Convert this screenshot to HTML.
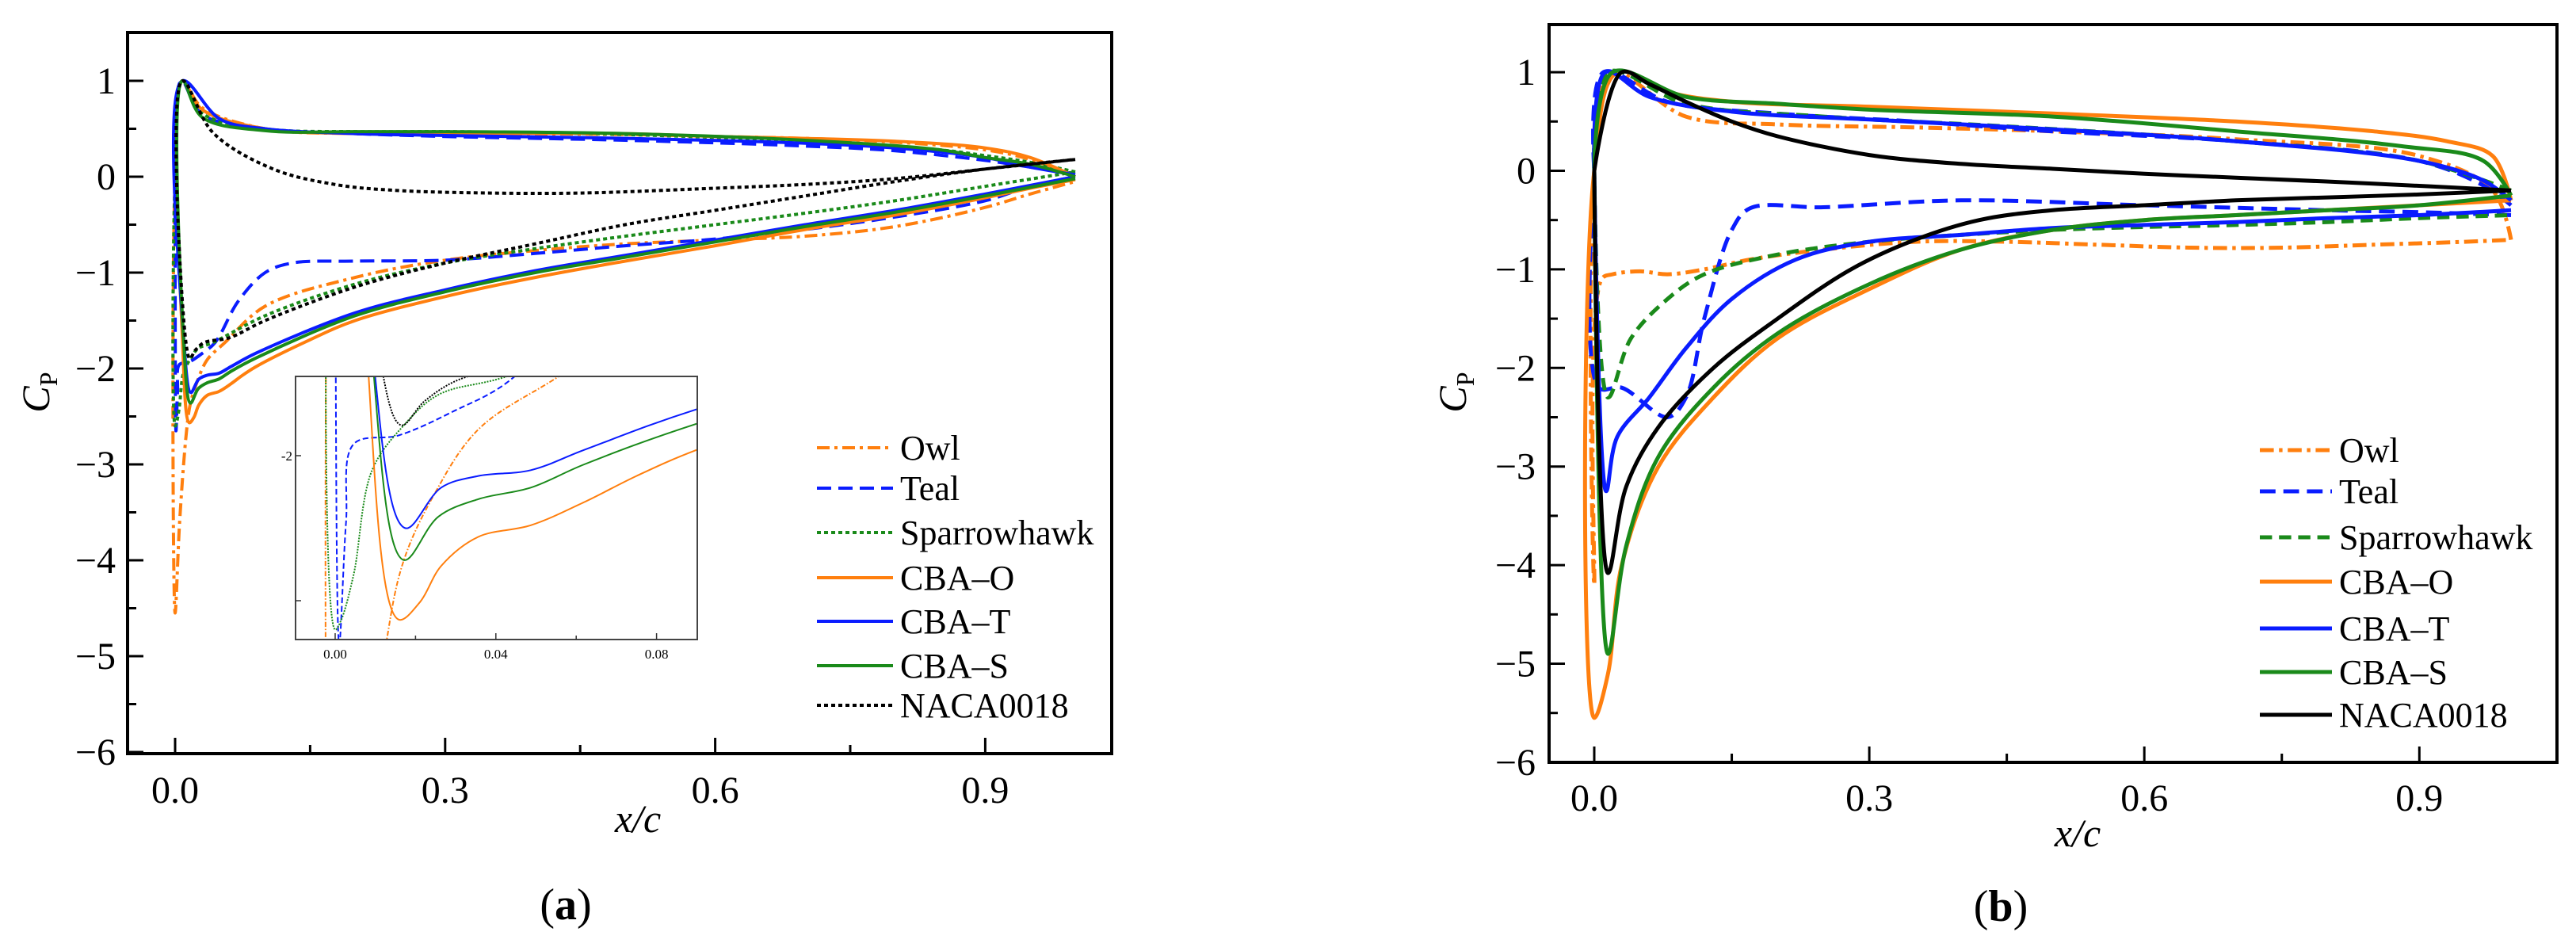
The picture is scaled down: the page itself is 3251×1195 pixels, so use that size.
<!DOCTYPE html>
<html><head><meta charset="utf-8">
<style>
html,body{margin:0;padding:0;background:#fff;width:3251px;height:1195px;overflow:hidden;}
svg{display:block;}
svg text{font-family:"Liberation Serif","DejaVu Serif",serif;}
</style></head>
<body>
<svg id="fig" width="3251" height="1195" viewBox="0 0 3251 1195" font-family="Liberation Serif, DejaVu Serif, serif" xmlns="http://www.w3.org/2000/svg"></svg>
<script>
// ---------- Panel (a) data ----------
const aOwlUx=[0,0.008,0.03,0.1,0.2,0.3,0.5,0.6,0.7,0.8,0.9,0.95,1.0];
const aOwlUy=[0,1,0.72,0.5,0.45,0.45,0.44,0.42,0.4,0.36,0.28,0.18,0];
const aOwlLx=[0,0.005,0.0129,0.0171,0.0244,0.0356,0.0553,0.1,0.2,0.3,0.4,0.5,0.6,0.7,0.8,0.9,0.95,1];
const aOwlLy=[-4.55,-3.6,-2.63,-2.36,-2.14,-1.91,-1.73,-1.35,-1.05,-0.87,-0.77,-0.7,-0.66,-0.62,-0.52,-0.32,-0.18,-0.05];
const aTealUx=[0,0.007,0.03,0.1,0.2,0.3,0.5,0.7,0.8,0.9,0.95,1.0];
const aTealUy=[0,1,0.65,0.5,0.45,0.42,0.38,0.32,0.27,0.17,0.1,0.03];
const aTealLx=[0,0.001,0.0027,0.0046,0.0158,0.029,0.0444,0.07,0.1,0.13,0.2,0.3,0.4,0.5,0.6,0.7,0.8,0.9,0.95,1];
const aTealLy=[-0.5,-2.65,-2.23,-1.96,-1.93,-1.85,-1.73,-1.3,-1.0,-0.9,-0.88,-0.87,-0.8,-0.72,-0.65,-0.55,-0.42,-0.25,-0.1,0];
const aSparUx=[0,0.008,0.03,0.1,0.2,0.3,0.5,0.7,0.85,0.9,0.95,1.0];
const aSparUy=[0,1,0.66,0.5,0.47,0.47,0.44,0.37,0.28,0.22,0.15,0.05];
const aSparLx=[0,0.0014,0.0046,0.0092,0.0171,0.0257,0.042,0.1,0.2,0.3,0.4,0.5,0.6,0.7,0.8,0.9,1];
const aSparLy=[-2.6,-2.57,-2.41,-2.05,-1.895,-1.79,-1.73,-1.45,-1.12,-0.9,-0.75,-0.62,-0.5,-0.38,-0.25,-0.1,0.05];
const aCboUx=[0.008,0.03,0.1,0.2,0.3,0.5,0.6,0.7,0.8,0.9,0.95,1.0];
const aCboUy=[1,0.7,0.5,0.45,0.45,0.45,0.42,0.4,0.37,0.3,0.2,0];
const aCboLx=[0.0083,0.0158,0.0211,0.0264,0.0356,0.0487,0.062,0.075,0.09,0.15,0.2,0.3,0.4,0.5,0.6,0.7,0.8,0.9,0.95,1];
const aCboLy=[-1.72,-2.565,-2.505,-2.38,-2.28,-2.24,-2.16,-2.07,-1.98,-1.7,-1.5,-1.25,-1.05,-0.88,-0.72,-0.55,-0.4,-0.22,-0.12,-0.03];
const aCbtUx=[0.008,0.05,0.1,0.2,0.3,0.5,0.7,0.8,0.9,0.95,1.0];
const aCbtUy=[1,0.6,0.5,0.45,0.43,0.4,0.35,0.3,0.2,0.1,0.02];
const aCbtLx=[0.0099,0.0175,0.0264,0.0356,0.0487,0.062,0.09,0.2,0.3,0.4,0.5,0.6,0.7,0.8,0.9,1];
const aCbtLy=[-1.72,-2.25,-2.11,-2.07,-2.05,-1.98,-1.84,-1.42,-1.18,-0.98,-0.82,-0.66,-0.5,-0.35,-0.18,0];
const aCbsUx=[0.008,0.03,0.1,0.2,0.3,0.5,0.7,0.85,0.9,0.95,1.0];
const aCbsUy=[1,0.62,0.48,0.47,0.47,0.45,0.38,0.28,0.2,0.13,0];
const aCbsLx=[0.0096,0.0171,0.0257,0.0356,0.0487,0.062,0.09,0.2,0.3,0.4,0.5,0.6,0.7,0.8,0.9,1];
const aCbsLy=[-1.72,-2.36,-2.21,-2.15,-2.11,-2.03,-1.89,-1.45,-1.2,-1.0,-0.84,-0.68,-0.52,-0.37,-0.2,-0.02];
const aNacaUx=[0.008,0.042,0.109,0.177,0.24,0.35,0.45,0.6,0.7,0.8,0.9,1.0];
const aNacaUy=[1,0.46,0.08,-0.08,-0.14,-0.17,-0.17,-0.12,-0.08,-0.02,0.08,0.18];
const aNacaLx=[0.0119,0.0165,0.0224,0.0323,0.06,0.1,0.2,0.3,0.4,0.5,0.6,0.7,0.8,0.9,1];
const aNacaLy=[-1.72,-1.895,-1.81,-1.73,-1.68,-1.5,-1.15,-0.9,-0.7,-0.5,-0.35,-0.2,-0.05,0.08,0.18];
// ---------- Panel (b) data ----------
const bOwlUx=[0,0.018,0.1,0.2,0.35,0.5,0.7,0.9,0.98,1.0];
const bOwlUy=[0,1,0.55,0.47,0.44,0.4,0.32,0.15,-0.2,-0.7];
const bOwlLx=[0,0.008,0.02,0.05,0.08,0.12,0.17,0.25,0.35,0.45,0.55,0.65,0.75,0.85,0.95,1];
const bOwlLy=[-4.2,-1.1,-1.05,-1.02,-1.05,-1.0,-0.9,-0.8,-0.72,-0.72,-0.75,-0.78,-0.78,-0.75,-0.72,-0.7];
const bTealUx=[0,0.01,0.08,0.2,0.35,0.5,0.7,0.9,0.97,1.0];
const bTealUy=[0,1,0.7,0.58,0.5,0.4,0.3,0.1,-0.15,-0.35];
const bTealLx=[0,0.005,0.03,0.08,0.1,0.12,0.15,0.17,0.25,0.4,0.6,0.8,0.9,1];
const bTealLy=[0,-2.2,-2.2,-2.5,-2.3,-1.5,-0.6,-0.38,-0.37,-0.3,-0.35,-0.4,-0.42,-0.45];
const bSparUx=[0,0.015,0.1,0.25,0.45,0.7,0.9,1.0];
const bSparUy=[0,1,0.68,0.55,0.45,0.3,0.1,-0.2];
const bSparLx=[0,0.015,0.04,0.08,0.12,0.2,0.3,0.4,0.5,0.6,0.7,0.8,0.9,1];
const bSparLy=[0,-2.3,-1.7,-1.3,-1.05,-0.85,-0.72,-0.65,-0.6,-0.57,-0.55,-0.52,-0.48,-0.45];
const bCboUx=[0,0.025,0.08,0.15,0.3,0.5,0.7,0.85,0.93,0.98,1.0];
const bCboUy=[0,1,0.8,0.7,0.65,0.58,0.5,0.4,0.3,0.15,-0.3];
const bCboLx=[0,0.015,0.03,0.07,0.13,0.2,0.3,0.4,0.5,0.6,0.7,0.8,0.9,1];
const bCboLy=[-5.55,-5.1,-4.0,-3.0,-2.3,-1.7,-1.2,-0.8,-0.6,-0.5,-0.45,-0.4,-0.35,-0.3];
const bCbtUx=[0,0.012,0.06,0.15,0.3,0.5,0.7,0.9,0.97,1.0];
const bCbtUy=[0,1,0.75,0.6,0.52,0.42,0.3,0.1,-0.1,-0.3];
const bCbtLx=[0,0.013,0.025,0.06,0.1,0.15,0.22,0.3,0.4,0.5,0.6,0.7,0.8,0.9,1];
const bCbtLy=[0,-3.25,-2.7,-2.3,-1.8,-1.3,-0.9,-0.72,-0.65,-0.58,-0.55,-0.52,-0.48,-0.45,-0.4];
const bCbsUx=[0,0.02,0.1,0.2,0.3,0.5,0.7,0.88,0.97,1.0];
const bCbsUy=[0,1,0.75,0.68,0.62,0.55,0.4,0.25,0.1,-0.25];
const bCbsLx=[0,0.015,0.035,0.07,0.13,0.2,0.3,0.4,0.5,0.6,0.7,0.8,0.9,1];
const bCbsLy=[0,-4.9,-3.8,-2.9,-2.2,-1.65,-1.15,-0.8,-0.6,-0.5,-0.45,-0.4,-0.35,-0.25];
const bNacaUx=[0,0.03,0.06,0.1,0.15,0.2,0.3,0.4,0.5,0.6,0.7,0.85,1.0];
const bNacaUy=[0,1,0.88,0.7,0.5,0.35,0.16,0.07,0.02,-0.03,-0.07,-0.13,-0.2];
const bNacaLx=[0,0.015,0.035,0.07,0.13,0.2,0.28,0.35,0.42,0.5,0.6,0.7,0.8,0.9,1];
const bNacaLy=[0,-4.08,-3.2,-2.6,-2.0,-1.5,-1.0,-0.7,-0.5,-0.4,-0.35,-0.3,-0.27,-0.24,-0.2];
// ---------- labels ----------
const xTickLabels=["0.0","0.3","0.6","0.9"];
const xTickValues=[0,0.3,0.6,0.9];
const yTickValues=[1,0,-1,-2,-3,-4,-5,-6];
const yTickLabels=["1","0","\u22121","\u22122","\u22123","\u22124","\u22125","\u22126"];
const legendNames=["Owl","Teal","Sparrowhawk","CBA\u2013O","CBA\u2013T","CBA\u2013S","NACA0018"];
const insetXTicks=[0,0.04,0.08];
const insetXLabels=["0.00","0.04","0.08"];

const NS="http://www.w3.org/2000/svg";
const svg=document.getElementById('fig');
function mk(tag,attrs,parent){const e=document.createElementNS(NS,tag);for(const k in attrs)e.setAttribute(k,attrs[k]);(parent||svg).appendChild(e);return e;}
const FONT="Liberation Serif, DejaVu Serif, serif";
const ORANGE="#ff7f0e",BLUE="#0a1cff",GREEN="#1a8a1a",BLACK="#000";

function smooth(pts){
  if(pts.length<3)return 'M'+pts.map(p=>p[0].toFixed(1)+','+p[1].toFixed(1)).join('L');
  let d='M'+pts[0][0].toFixed(1)+','+pts[0][1].toFixed(1);
  for(let i=0;i<pts.length-1;i++){
    const p0=pts[i-1]||pts[i],p1=pts[i],p2=pts[i+1],p3=pts[i+2]||p2;
    const dist=(a,b)=>Math.max(1e-3,Math.pow(Math.hypot(a[0]-b[0],a[1]-b[1]),0.5));
    const d1=dist(p0,p1),d2=dist(p1,p2),d3=dist(p2,p3);
    let c1=[p1[0],p1[1]],c2=[p2[0],p2[1]];
    if(p0!==p1){
      const n=3*d1*(d1+d2);
      c1=[(d1*d1*p2[0]-d2*d2*p0[0]+(2*d1*d1+3*d1*d2+d2*d2)*p1[0])/n,(d1*d1*p2[1]-d2*d2*p0[1]+(2*d1*d1+3*d1*d2+d2*d2)*p1[1])/n];
    }
    if(p3!==p2){
      const m=3*d3*(d3+d2);
      c2=[(d3*d3*p1[0]-d2*d2*p3[0]+(2*d3*d3+3*d3*d2+d2*d2)*p2[0])/m,(d3*d3*p1[1]-d2*d2*p3[1]+(2*d3*d3+3*d3*d2+d2*d2)*p2[1])/m];
    }
    d+='C'+c1[0].toFixed(1)+','+c1[1].toFixed(1)+' '+c2[0].toFixed(1)+','+c2[1].toFixed(1)+' '+p2[0].toFixed(1)+','+p2[1].toFixed(1);
  }
  return d;
}

function panel(P){
  const g=mk('g',{});
  
  
  const X=v=>P.x0+P.xu*v, Y=v=>P.y0-P.yu*v;
  const series=P.series;
  function pathD(s,Xf,Yf){
    let pts=[];
    for(let i=s.ux.length-1;i>=0;i--)pts.push([Xf(s.ux[i]),Yf(s.uy[i])]);
    for(let i=0;i<s.lx.length;i++)pts.push([Xf(s.lx[i]),Yf(s.ly[i])]);
    return smooth(pts);
  }
  const cid=P.name+'-clip';
  const cp=mk('clipPath',{id:cid},g);
  mk('rect',{x:P.bx1,y:P.by1,width:P.bx2-P.bx1,height:P.by2-P.by1},cp);
  const lg=mk('g',{'clip-path':'url(#'+cid+')'},g);
  series.forEach(s=>{
    const p=mk('path',{d:pathD(s,X,Y),fill:'none',stroke:s.color,'stroke-width':P.lw,'stroke-dasharray':s.dash.map(d=>d*P.dashScale).join(' '),'stroke-linejoin':'round'},lg);
    
    
  });
  const fr=mk('rect',{x:P.bx1,y:P.by1,width:P.bx2-P.bx1,height:P.by2-P.by1,fill:'none',stroke:'#000','stroke-width':4},g);
  
  
  for(let v=0;v<=0.91;v+=0.15){
    const major=Math.abs(v/0.3-Math.round(v/0.3))<1e-6;
    mk('line',{x1:X(v),x2:X(v),y1:P.by2,y2:P.by2-(major?20:11),stroke:'#000','stroke-width':3},g);
  }
  xTickValues.forEach((v,i)=>{
    const t=mk('text',{x:X(v),y:P.xlabY,'font-size':48,'text-anchor':'middle','font-family':FONT},g);
    t.textContent=xTickLabels[i];
    
    
  });
  for(let v=1;v>=-6;v-=0.5){
    const major=Number.isInteger(v);
    mk('line',{x1:P.bx1,x2:P.bx1+(major?20:11),y1:Y(v),y2:Y(v),stroke:'#000','stroke-width':3},g);
  }
  yTickValues.forEach((v,i)=>{
    const t=mk('text',{x:P.ylabX,y:Y(v)+16,'font-size':48,'text-anchor':'end','font-family':FONT},g);
    t.textContent=yTickLabels[i];
    
    
  });
  const xt=mk('text',{x:P.xtX,y:P.xtY,'font-size':50,'font-style':'italic','text-anchor':'middle','font-family':FONT},g);
  xt.textContent='x/c';
  
  
  const yt=mk('text',{x:0,y:0,'font-size':50,'font-style':'italic','text-anchor':'middle','font-family':FONT,transform:'translate('+P.ytX+','+P.ytY+') rotate(-90)'},g);
  yt.textContent='C';
  const sub=mk('tspan',{'font-size':32,'font-style':'normal',dy:10},yt);
  sub.textContent='P';
  
  
  series.forEach((s,i)=>{
    const yy=P.legY[i];
    const ln=mk('line',{x1:P.legX1,x2:P.legX2,y1:yy,y2:yy,stroke:s.color,'stroke-width':P.lw,'stroke-dasharray':s.dash.map(d=>d*P.dashScale).join(' ')},g);
    
    
    const t=mk('text',{x:P.legTX,y:yy+15,'font-size':44,'font-family':FONT},g);
    t.textContent=legendNames[i];
    
    
  });
  const cap=mk('text',{x:P.capX,y:P.capY,'font-size':56,'text-anchor':'middle','font-family':FONT},g);
  cap.appendChild(document.createTextNode('('));
  const cb=mk('tspan',{'font-weight':'bold'},cap); cb.textContent=P.cap;
  cap.appendChild(document.createTextNode(')'));
  
  
  if(P.inset){
    const I=P.inset;
    const IX=v=>I.x0+I.xu*v, IY=v=>I.y0-I.yu*(v-(-2));
    const ig=mk('g',{},g);
    
    
    mk('rect',{x:I.bx1,y:I.by1,width:I.bx2-I.bx1,height:I.by2-I.by1,fill:'#fff'},ig);
    const ic=mk('clipPath',{id:'inset-clip'},ig);
    mk('rect',{x:I.bx1,y:I.by1,width:I.bx2-I.bx1,height:I.by2-I.by1},ic);
    const il=mk('g',{'clip-path':'url(#inset-clip)'},ig);
    series.forEach(s=>{
      const p=mk('path',{d:pathD(s,IX,IY),fill:'none',stroke:s.color,'stroke-width':2,'stroke-dasharray':s.dash.map(d=>d*0.4).join(' ')},il);
      
      
    });
    mk('rect',{x:I.bx1,y:I.by1,width:I.bx2-I.bx1,height:I.by2-I.by1,fill:'none',stroke:'#444','stroke-width':2},ig);
    for(let v=0;v<=0.081;v+=0.02){
      const major=Math.round(v*100)%4===0;
      mk('line',{x1:IX(v),x2:IX(v),y1:I.by2,y2:I.by2-(major?8:5),stroke:'#333','stroke-width':1.5},ig);
    }
    insetXTicks.forEach((v,i)=>{
      const t=mk('text',{x:IX(v),y:I.by2+24,'font-size':17,'text-anchor':'middle','font-family':FONT},ig);
      t.textContent=insetXLabels[i];
    });
    [-2,-2.5].forEach(v=>mk('line',{x1:I.bx1,x2:I.bx1+7,y1:IY(v),y2:IY(v),stroke:'#333','stroke-width':1.5},ig));
    const t=mk('text',{x:I.bx1-4,y:IY(-2)+6,'font-size':17,'text-anchor':'end','font-family':FONT},ig);
    t.textContent='-2';
  }
}

function S(key,color,dash,ux,uy,lx,ly){return {key,color,dash,ux,uy,lx,ly};}
const DD=[16,6,4,6], DA=[18,9], DO=[5,4], SO=[];
panel({name:'panel-a',x0:221,xu:1136,y0:223,yu:121,bx1:161,bx2:1403,by1:41,by2:951,lw:4,dashScale:1,
  xlabY:1013,ylabX:146,xtX:805,xtY:1050,ytX:62,ytY:495,
  legX1:1031,legX2:1127,legTX:1136,legY:[565,616,672,729,784,840,890],capX:714,capY:1160,cap:'a',
  series:[S('owl',ORANGE,DD,aOwlUx,aOwlUy,aOwlLx,aOwlLy),S('teal',BLUE,DA,aTealUx,aTealUy,aTealLx,aTealLy),
    S('sparrowhawk',GREEN,DO,aSparUx,aSparUy,aSparLx,aSparLy),S('cba-o',ORANGE,SO,aCboUx,aCboUy,aCboLx,aCboLy),
    S('cba-t',BLUE,SO,aCbtUx,aCbtUy,aCbtLx,aCbtLy),S('cba-s',GREEN,SO,aCbsUx,aCbsUy,aCbsLx,aCbsLy),
    S('naca0018',BLACK,DO,aNacaUx,aNacaUy,aNacaLx,aNacaLy)],
  inset:{x0:423,xu:5070,y0:575,yu:366,bx1:373,bx2:880,by1:475,by2:807}});
panel({name:'panel-b',x0:2012,xu:1157,y0:215.5,yu:124.4,bx1:1955,bx2:3227,by1:31,by2:962,lw:5,dashScale:1.1,
  xlabY:1023,ylabX:1938,xtX:2622,xtY:1068,ytX:1850,ytY:495,
  legX1:2852,legX2:2943,legTX:2952,legY:[568,620,678,734,793,848,902],capX:2525,capY:1162,cap:'b',
  series:[S('owl',ORANGE,DD,bOwlUx,bOwlUy,bOwlLx,bOwlLy),S('teal',BLUE,DA,bTealUx,bTealUy,bTealLx,bTealLy),
    S('sparrowhawk',GREEN,[14,8],bSparUx,bSparUy,bSparLx,bSparLy),S('cba-o',ORANGE,SO,bCboUx,bCboUy,bCboLx,bCboLy),
    S('cba-t',BLUE,SO,bCbtUx,bCbtUy,bCbtLx,bCbtLy),S('cba-s',GREEN,SO,bCbsUx,bCbsUy,bCbsLx,bCbsLy),
    S('naca0018',BLACK,SO,bNacaUx,bNacaUy,bNacaLx,bNacaLy)]});
</script>
</body></html>
